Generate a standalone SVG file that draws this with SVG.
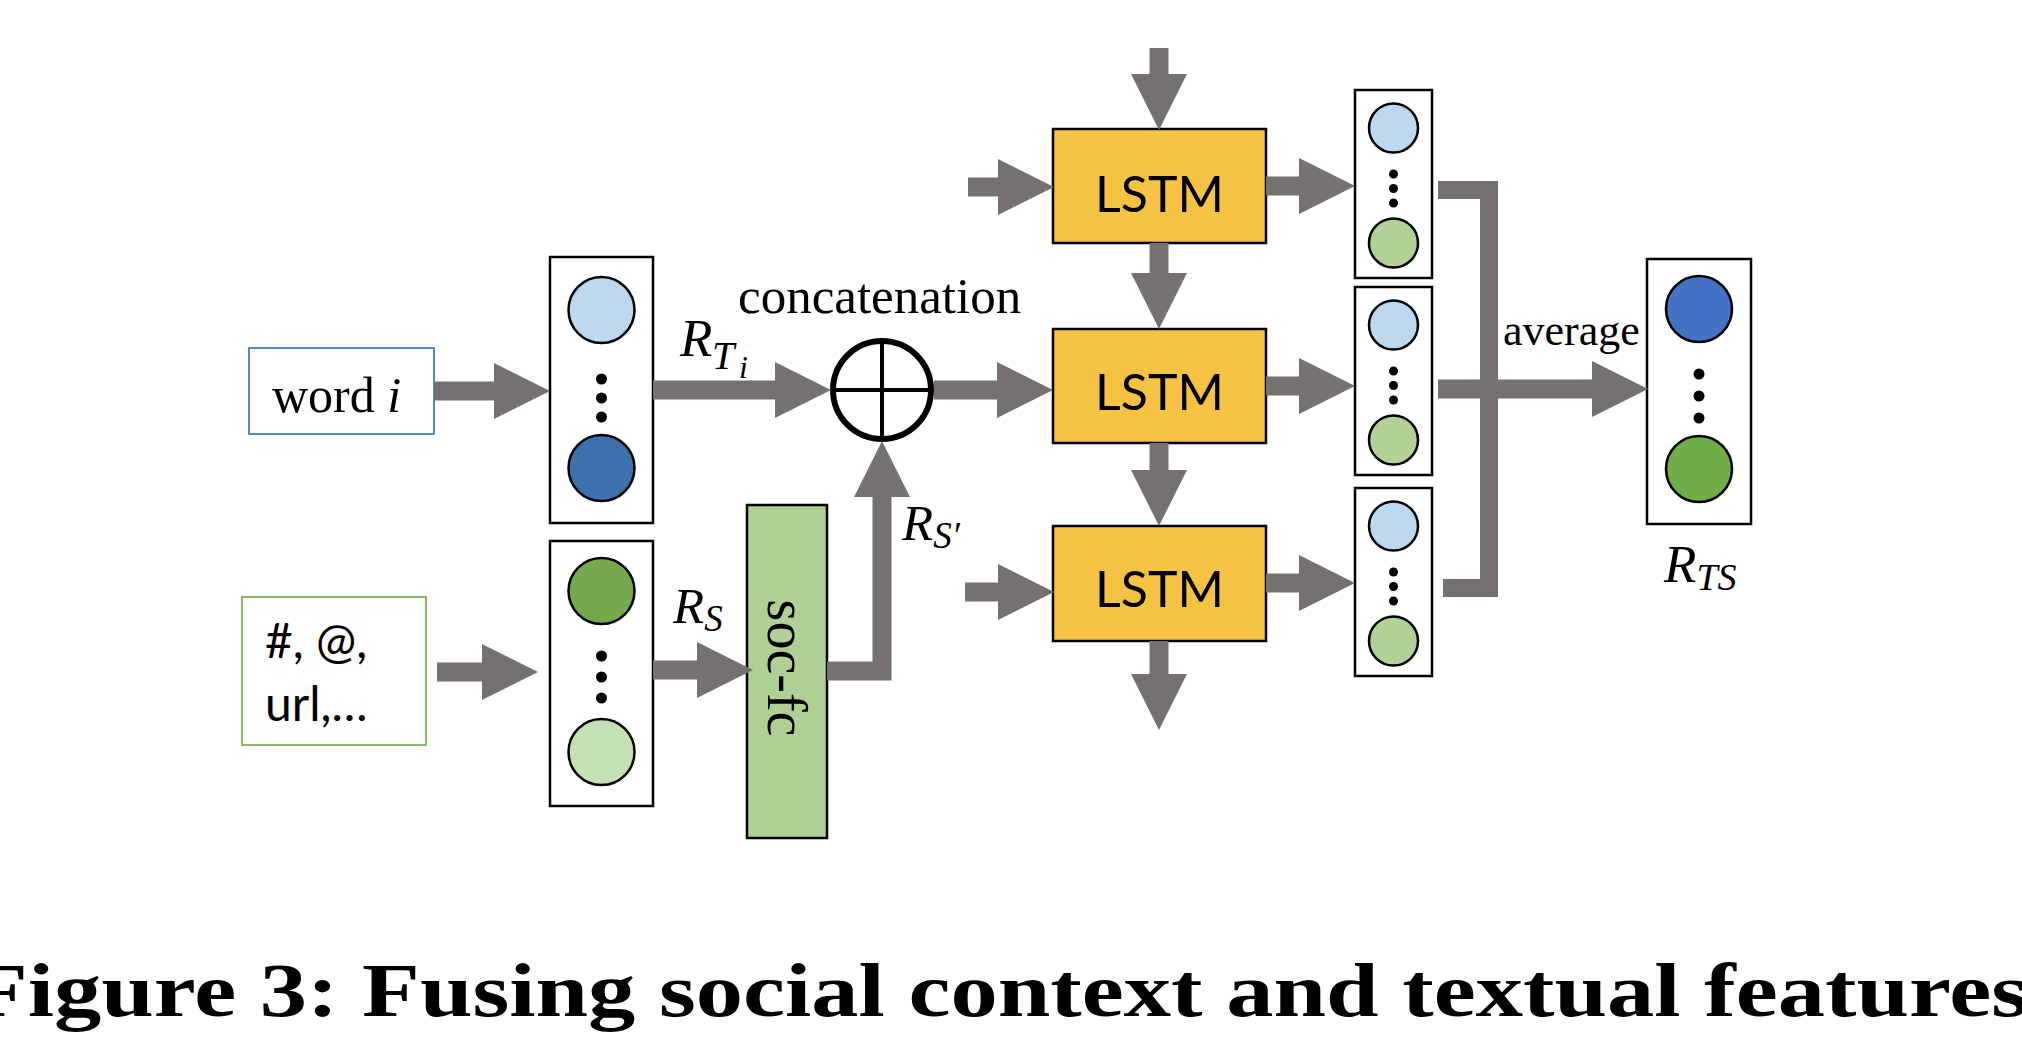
<svg xmlns="http://www.w3.org/2000/svg" width="2022" height="1044" viewBox="0 0 2022 1044">
<defs>
<marker id="ah" markerUnits="userSpaceOnUse" markerWidth="56" markerHeight="56" viewBox="0 0 56 56" refX="0" refY="28" orient="auto">
<path d="M0,0 L56,28 L0,56 Z" fill="#767171"/>
</marker>
<style>
.arr{fill:none;stroke:#767171;stroke-width:19;marker-end:url(#ah)}
.bar{fill:none;stroke:#767171;stroke-width:18;stroke-linejoin:miter}
.vec{fill:#fff;stroke:#000;stroke-width:2.5}
.lstm{fill:#f5c243;stroke:#000;stroke-width:2.5}
.c{stroke:#000;stroke-width:2.5}
.dot{fill:#000}
.serif{font-family:"Liberation Serif","Times New Roman",serif;fill:#000}
.it{font-family:"Liberation Serif","Times New Roman",serif;font-style:italic;fill:#000}
.sans{font-family:Lato,"Liberation Sans",sans-serif;fill:#000}
</style>
</defs>
<rect width="2022" height="1044" fill="#fff"/>

<g id="word-i">
<rect x="249" y="348" width="185" height="86" fill="#fff" stroke="#4a7cc2" stroke-width="1.8"/>
<text x="272" y="412" class="serif" font-size="50">word <tspan font-style="italic">i</tspan></text>
</g>

<g id="social-input">
<rect x="242" y="597" width="184" height="148" fill="#fff" stroke="#7bb256" stroke-width="1.8"/>
<text x="265" y="658" class="sans" font-size="48">#, @,</text>
<text x="265" y="721" class="sans" font-size="48">url,…</text>
</g>

<g id="vec-text">
<rect x="550" y="257" width="103" height="266" class="vec"/>
<circle cx="601.5" cy="310" r="33" fill="#bdd7ee" class="c"/>
<circle cx="601.5" cy="468" r="33" fill="#3e70ae" class="c"/>
<circle cx="601.5" cy="379" r="5.5" class="dot"/>
<circle cx="601.5" cy="398" r="5.5" class="dot"/>
<circle cx="601.5" cy="417" r="5.5" class="dot"/>
</g>

<g id="vec-social">
<rect x="550" y="541" width="103" height="265" class="vec"/>
<circle cx="601.5" cy="591" r="33" fill="#76a94d" class="c"/>
<circle cx="601.5" cy="752" r="33" fill="#c6e0b5" class="c"/>
<circle cx="601.5" cy="656" r="5.5" class="dot"/>
<circle cx="601.5" cy="677" r="5.5" class="dot"/>
<circle cx="601.5" cy="698" r="5.5" class="dot"/>
</g>

<g id="soc-fc">
<rect x="747" y="505" width="80" height="333" fill="#b0cf95" stroke="#000" stroke-width="2.5"/>
<text transform="translate(768,668) rotate(90)" text-anchor="middle" class="serif" font-size="56">soc-fc</text>
</g>

<g id="concat">
<circle cx="882" cy="390" r="49" fill="#fff" stroke="#000" stroke-width="6"/>
<line x1="833" y1="390" x2="931" y2="390" stroke="#000" stroke-width="4"/>
<line x1="882" y1="341" x2="882" y2="439" stroke="#000" stroke-width="4"/>
<text x="738" y="313" class="serif" font-size="51">concatenation</text>
</g>

<g id="lstm1">
<rect x="1053" y="129" width="213" height="114" class="lstm"/>
<text x="1159.5" y="212" text-anchor="middle" class="sans" font-size="50">LSTM</text>
</g>
<g id="lstm2">
<rect x="1053" y="329" width="213" height="114" class="lstm"/>
<text x="1159.5" y="410" text-anchor="middle" class="sans" font-size="50">LSTM</text>
</g>
<g id="lstm3">
<rect x="1053" y="526" width="213" height="115" class="lstm"/>
<text x="1159.5" y="607" text-anchor="middle" class="sans" font-size="50">LSTM</text>
</g>

<g id="out1">
<rect x="1355" y="90" width="77" height="188" class="vec"/>
<circle cx="1393.5" cy="128" r="24.5" fill="#bdd7ee" class="c"/>
<circle cx="1393.5" cy="243" r="24.5" fill="#b1d196" class="c"/>
<circle cx="1393.5" cy="174" r="4.5" class="dot"/>
<circle cx="1393.5" cy="188.5" r="4.5" class="dot"/>
<circle cx="1393.5" cy="203" r="4.5" class="dot"/>
</g>
<g id="out2">
<rect x="1355" y="287" width="77" height="188" class="vec"/>
<circle cx="1393.5" cy="325" r="24.5" fill="#bdd7ee" class="c"/>
<circle cx="1393.5" cy="440" r="24.5" fill="#b1d196" class="c"/>
<circle cx="1393.5" cy="371" r="4.5" class="dot"/>
<circle cx="1393.5" cy="385.5" r="4.5" class="dot"/>
<circle cx="1393.5" cy="400" r="4.5" class="dot"/>
</g>
<g id="out3">
<rect x="1355" y="488" width="77" height="188" class="vec"/>
<circle cx="1393.5" cy="526" r="24.5" fill="#bdd7ee" class="c"/>
<circle cx="1393.5" cy="641" r="24.5" fill="#b1d196" class="c"/>
<circle cx="1393.5" cy="572" r="4.5" class="dot"/>
<circle cx="1393.5" cy="586.5" r="4.5" class="dot"/>
<circle cx="1393.5" cy="601" r="4.5" class="dot"/>
</g>

<g id="rts">
<rect x="1647" y="259" width="104" height="265" class="vec"/>
<circle cx="1699" cy="309" r="33" fill="#4472c4" class="c"/>
<circle cx="1699" cy="469" r="33" fill="#70ad47" class="c"/>
<circle cx="1699" cy="374" r="5.5" class="dot"/>
<circle cx="1699" cy="396" r="5.5" class="dot"/>
<circle cx="1699" cy="418" r="5.5" class="dot"/>
<text x="1664" y="582" class="it" font-size="53">R<tspan font-size="38" dy="8">TS</tspan></text>
</g>

<g id="connectors">
<path class="arr" d="M434,391 H494"/>
<path class="arr" d="M437,672 H482"/>
<path class="arr" d="M653,390 H775"/>
<path class="arr" d="M653,670 H697"/>
<path class="arr" d="M827,671 H882 V497"/>
<path class="arr" d="M934,390 H997"/>
<path class="arr" d="M968,187 H998"/>
<path class="arr" d="M965,592 H998"/>
<path class="arr" d="M1159,48 V74"/>
<path class="arr" d="M1159,243 V273"/>
<path class="arr" d="M1159,443 V470"/>
<path class="arr" d="M1159,641 V674"/>
<path class="arr" d="M1266,186 H1299"/>
<path class="arr" d="M1266,386 H1299"/>
<path class="arr" d="M1266,583 H1299"/>
<path class="bar" d="M1438,190 H1489 V588 H1443"/>
<path class="arr" d="M1438,389 H1592"/>
</g>

<g id="labels">
<text x="680" y="356" class="it" font-size="53">R</text>
<text x="712" y="369" class="it" font-size="40">T</text>
<text x="739" y="378" class="it" font-size="32">i</text>
<text x="673" y="623" class="it" font-size="51">R<tspan font-size="37" dy="8">S</tspan></text>
<text x="902" y="540" class="it" font-size="51">R<tspan font-size="37" dy="8">S′</tspan></text>
<text x="1503" y="345" class="serif" font-size="44">average</text>
</g>

<text x="-30" y="1016" font-family="'Liberation Serif','Times New Roman',serif" font-weight="bold" font-size="76" textLength="2058" lengthAdjust="spacingAndGlyphs">Figure 3: Fusing social context and textual features</text>
</svg>
